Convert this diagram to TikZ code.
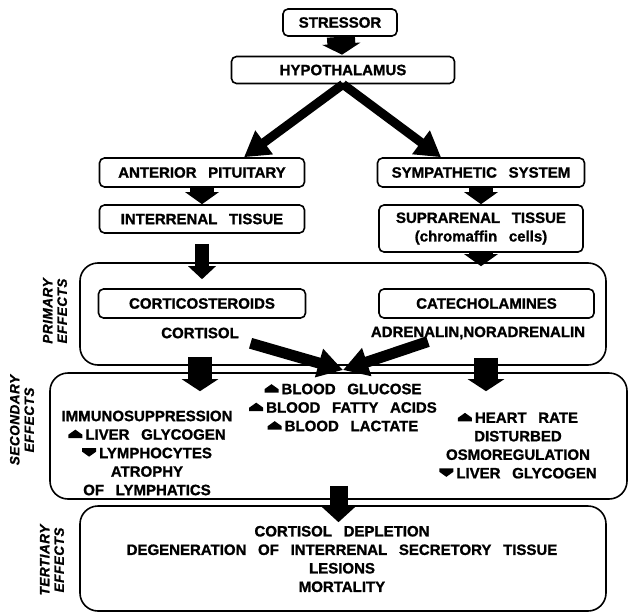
\documentclass[tikz,border=0pt]{standalone}
\usepackage{fontspec}
\setmainfont{Liberation Sans}[WordSpace=2.8,FakeBold=1.2]
\newfontfamily\sidefont{Liberation Sans}[LetterSpace=4,FakeBold=1.2]
\usepackage{tikz}
\usetikzlibrary{
	arrows.meta,shapes
}

\newcommand{\up}{\tikz[baseline=0pt]\fill (0pt,1.5pt) -- (0pt,5pt) -- (7pt,10pt) -- (14pt,5pt) -- (14pt,1.5pt) -- cycle;\hspace{3pt}}
\newcommand{\dn}{\tikz[baseline=0pt]\fill (0pt,10pt) -- (0pt,6.5pt) -- (7pt,1.5pt) -- (14pt,6.5pt) -- (14pt,10pt) -- cycle;\hspace{3pt}}

\begin{document}
\begin{tikzpicture}[x=1pt,y=-1pt,
		font=\bfseries\fontsize{15}{18.5}\selectfont,
		box/.style={draw,line width=1.6pt,rounded corners=5pt},
		area/.style={draw,line width=1.6pt,rounded corners=18pt},
		side/.style={rotate=90,align=center,
			font=\sidefont\bfseries\itshape\fontsize{13.5}{14.5}\selectfont},
		fat/.style n args={3}{line width=#1,-{Triangle[width=#2,length=#3]}}
	]
			\useasboundingbox (0,0) rectangle (629,613);
			%
			\node[box,minimum width=114,minimum height=27] (STR) at (340,22.5) {STRESSOR};
			\node[box,minimum width=223,minimum height=27] (HYP) at (343,70) {HYPOTHALAMUS};
			\node[box,minimum width=205,minimum height=29] (AP) at (202,172.5) {ANTERIOR PITUITARY};
			\node[box,minimum width=207,minimum height=29] (SS) at (481,172.5) {SYMPATHETIC SYSTEM};
			\node[box,minimum width=205,minimum height=28] (IT) at (202,219) {INTERRENAL TISSUE};
			\node[box,minimum width=204,minimum height=47,align=center] (ST) at (481,228.5) {
					SUPRARENAL TISSUE\\(chromaffin cells)};
			%
			\node[area,minimum width=526,minimum height=102] (PE) at (343,314) {};
			\node[box,minimum width=207,minimum height=29] (CS) at (202,303.5) {CORTICOSTEROIDS};
			\node[box,minimum width=215,minimum height=29] (CA) at (486.5,303.5) {CATECHOLAMINES};
			\node[inner sep=2pt] (CO) at (200,333) {CORTISOL};
			\node[inner sep=2pt] (AD) at (478,333) {ADRENALIN,NORADRENALIN};
			\node[side] (PL) at (55,311) {PRIMARY\\EFFECTS};
			%
			\node[area,minimum width=577,minimum height=126] (SE) at (338.5,436) {};
			\node[align=center] (LC) at (147,453) {
					IMMUNOSUPPRESSION\\\up LIVER GLYCOGEN\\\dn LYMPHOCYTES\\ATROPHY\\OF LYMPHATICS};
			\node[align=center] (MC) at (343,407.5) {
					\up BLOOD GLUCOSE\\\up BLOOD FATTY ACIDS\\\up BLOOD LACTATE};
			\node[align=center] (RC) at (518,445.5) {
					\up HEART RATE\\DISTURBED\\OSMOREGULATION\\\dn LIVER GLYCOGEN};
			\node[side] (SL) at (22,420) {SECONDARY\\EFFECTS};
			%
			\node[area,minimum width=526,minimum height=105] (TE) at (343,558.5) {};
			\node[align=center] (TT) at (342,559) {
					CORTISOL DEPLETION\\DEGENERATION OF INTERRENAL SECRETORY TISSUE\\LESIONS\\MORTALITY};
			\node[side] (TL) at (52,560) {TERTIARY\\EFFECTS};
			%
			\coordinate (J) at (343,370);
			%
			\path[fat={28pt}{38pt}{11pt}] (STR) edge[shorten >=1pt] (HYP);
			\path[fat={9pt}{28pt}{25pt}]
				(HYP.south) edge ([xshift=42pt]AP.north)
				(HYP.south) edge ([xshift=-40pt]SS.north);
			\path[fat={24pt}{33pt}{12pt}]
				(AP) edge (IT)
				(SS) edge (ST)
				(ST.south) edge[shorten >=-4pt] (ST.south |- PE.north);
			\path[fat={14pt}{27pt}{13pt}] (IT) edge[shorten <=10pt,shorten >=9pt] (CS);
			\path[fat={11pt}{28pt}{25pt}]
				(CO.south east) edge[shorten <=10pt] (J)
				([xshift=-50pt]AD.south) edge (J);
			\path[fat={24pt}{36pt}{12pt}]
				(CO.south) edge[shorten <=16pt,shorten >=-19pt] (CO.south |- SE.north)
				([xshift=8pt]AD.south) edge[shorten <=16pt,shorten >=-19pt] ([xshift=8pt]AD.south |- SE.north);
			\path[fat={18pt}{34pt}{16pt}]
				(SE.south) edge[shorten <=-14pt,shorten >=-17pt] (SE.south |- TE.north);
\end{tikzpicture}
\end{document}
